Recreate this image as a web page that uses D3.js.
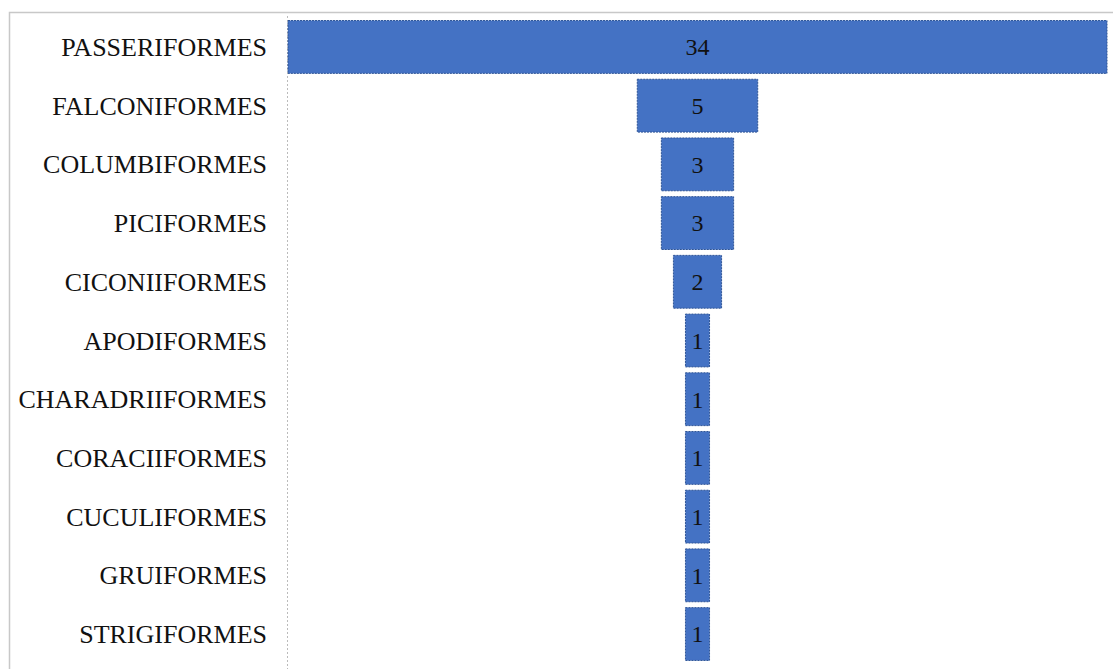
<!DOCTYPE html>
<html><head><meta charset="utf-8">
<script src="https://cdn.jsdelivr.net/npm/d3@7"></script>
<style>body{margin:0;background:#fff}svg{display:block}</style>
</head><body>
<script>
const categories = ["PASSERIFORMES","FALCONIFORMES","COLUMBIFORMES","PICIFORMES","CICONIIFORMES","APODIFORMES","CHARADRIIFORMES","CORACIIFORMES","CUCULIFORMES","GRUIFORMES","STRIGIFORMES"];
const values = [34,5,3,3,2,1,1,1,1,1,1];

const W=1113,H=669;
const svg=d3.select("body").append("svg").attr("width",W).attr("height",H);
svg.append("rect").attr("x",9.5).attr("y",12.5).attr("width",W).attr("height",H).attr("fill","none").attr("stroke","#c8c8c8").attr("stroke-width",1.5);

const plotL=288, plotR=1107;
const center=(plotL+plotR)/2;
const x=d3.scaleLinear().domain([0,d3.max(values)]).range([0,plotR-plotL]);
const y=d3.scaleBand().domain(categories).range([17.6,663.4]).paddingInner(0.1).paddingOuter(0.05);

svg.append("line").attr("x1",287.5).attr("x2",287.5).attr("y1",16).attr("y2",H)
  .attr("stroke","#bbb").attr("stroke-dasharray","2,2");

const g=svg.append("g");
g.selectAll("rect.bar").data(categories).enter().append("rect").attr("class","bar")
  .attr("x",(d,i)=>center-x(values[i])/2).attr("width",(d,i)=>x(values[i]))
  .attr("y",d=>y(d)).attr("height",y.bandwidth())
  .attr("fill","#4472C4").attr("stroke","#2f5597").attr("stroke-width",1).attr("stroke-dasharray","2,1");

g.selectAll("text.val").data(categories).enter().append("text").attr("class","val")
  .attr("x",center).attr("y",d=>y(d)+y.bandwidth()/2).attr("dy","0.35em")
  .attr("text-anchor","middle").attr("font-family","Liberation Serif, Times New Roman, serif")
  .attr("font-size",24).attr("fill","#111").text((d,i)=>values[i]);

g.selectAll("text.cat").data(categories).enter().append("text").attr("class","cat")
  .attr("x",267).attr("y",d=>y(d)+y.bandwidth()/2).attr("dy","0.35em")
  .attr("text-anchor","end").attr("font-family","Liberation Serif, Times New Roman, serif")
  .attr("font-size",26).attr("fill","#111").text(d=>d);
</script>
</body></html>
